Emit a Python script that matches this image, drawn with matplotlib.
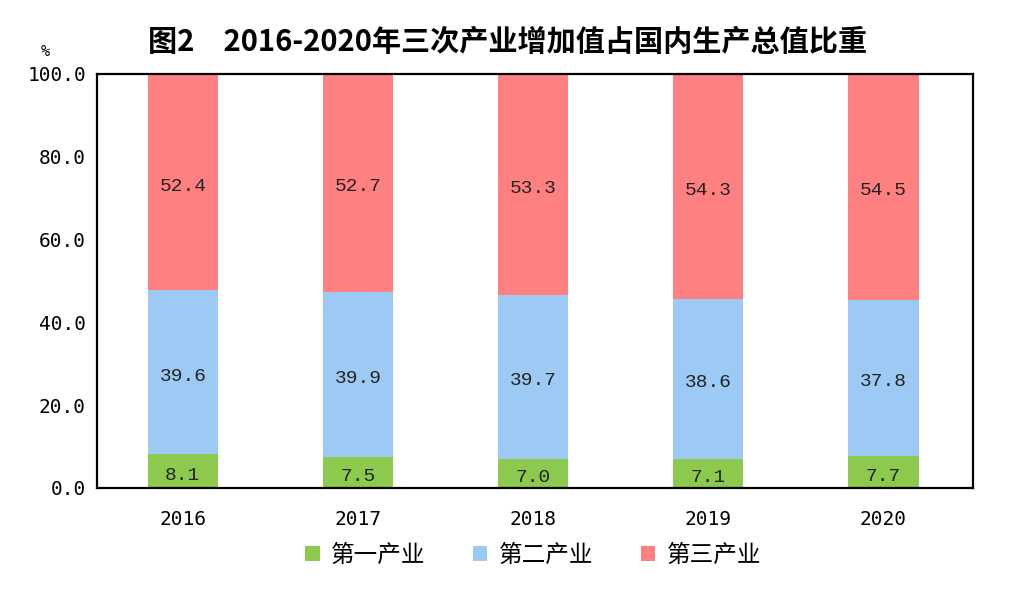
import matplotlib.pyplot as plt
import numpy as np

plt.rcParams['font.family'] = ['Noto Sans CJK SC', 'DejaVu Sans']

years = ['2016', '2017', '2018', '2019', '2020']
primary = [8.1, 7.5, 7.0, 7.1, 7.7]
secondary = [39.6, 39.9, 39.7, 38.6, 37.8]
tertiary = [52.4, 52.7, 53.3, 54.3, 54.5]
series_names = ['第一产业', '第二产业', '第三产业']
colors = ['#8dc94c', '#9ccaf4', '#ff8080']
y_ticks = [0, 20, 40, 60, 80, 100]

fig = plt.figure(figsize=(10.16, 6.02), dpi=100)
ax = fig.add_axes([0.0955, 0.1894, 0.862, 0.688])

x = np.arange(len(years))
bottom = np.zeros(len(years))
for vals, name, color in zip([primary, secondary, tertiary], series_names, colors):
	vals = np.array(vals)
	ax.bar(x, vals, width=0.4, bottom=bottom, color=color, label=name)
	for xi, b, v in zip(x, bottom, vals):
		ax.annotate(f'{v:.1f}', (xi, b + v / 2), xytext=(0, -3), textcoords='offset points',
					ha='center', va='center', fontsize=14, family='Liberation Mono',
					color='#222222')
	bottom += vals

ax.set_ylim(0, 100)
ax.set_xlim(-0.49, 4.51)
ax.set_xticks(x)
ax.set_xticklabels(years, family='DejaVu Sans Mono', fontsize=14)
ax.set_yticks(y_ticks)
ax.set_yticklabels([f'{t:.1f}' for t in y_ticks], family='DejaVu Sans Mono', fontsize=14)
ax.tick_params(length=0, pad=8)
ax.tick_params(axis='x', pad=16)
for sp in ax.spines.values():
	sp.set_linewidth(1.6)

fig.text(0.5, 0.93, '图2　2016-2020年三次产业增加值占国内生产总值比重',
		 ha='center', va='center', fontsize=21, fontweight='bold')
fig.text(0.045, 0.915, '%', ha='center', va='center', fontsize=11,
		 family='DejaVu Sans Mono')

handles, labels = ax.get_legend_handles_labels()
fig.legend(handles, labels, loc='center', bbox_to_anchor=(0.525, 0.078), ncol=3,
		   frameon=False, fontsize=17, handlelength=0.6, handleheight=0.6,
		   handletextpad=0.5, columnspacing=2.0)

fig.savefig('out.png', dpi=100)
